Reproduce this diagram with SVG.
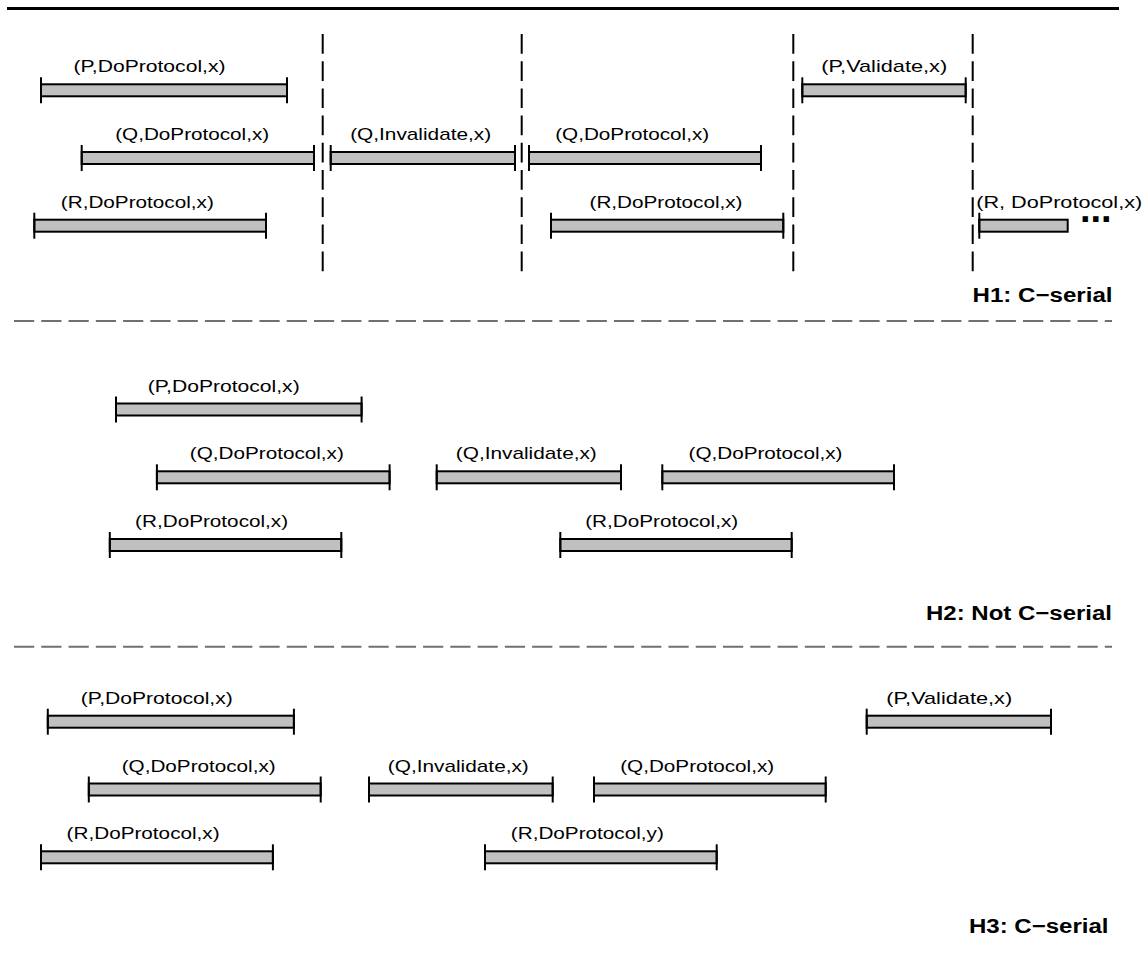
<svg xmlns="http://www.w3.org/2000/svg" width="1148" height="955" viewBox="0 0 1148 955">
<style>
.bar{fill:#c0c0c0;stroke:#000;stroke-width:2}
.tick{stroke:#000;stroke-width:2}
.lbl{font-family:"Liberation Sans",Arial,sans-serif;font-size:17px;fill:#000}
.title{font-family:"Liberation Sans",Arial,sans-serif;font-size:20px;font-weight:bold;fill:#000}
.dots{font-family:"Liberation Sans",Arial,sans-serif;font-size:38px;font-weight:bold;fill:#000}
.vdash{stroke:#000;stroke-width:2;stroke-dasharray:19.7 7.5;fill:none}
.hsep{stroke:#707070;stroke-width:2;stroke-dasharray:20.2 7.07;fill:none}
</style>
<rect width="1148" height="955" fill="#fff"/>
<g id="connectors">
<line x1="7" y1="8.5" x2="1119" y2="8.5" stroke="#000" stroke-width="3"/>
<line class="vdash" x1="322.7" y1="34" x2="322.7" y2="272"/>
<line class="vdash" x1="521.7" y1="34" x2="521.7" y2="272"/>
<line class="vdash" x1="793.3" y1="34" x2="793.3" y2="272"/>
<line class="vdash" x1="972.7" y1="34" x2="972.7" y2="272"/>
<line class="hsep" x1="14" y1="321" x2="1112" y2="321"/>
<line class="hsep" x1="14" y1="646.7" x2="1112" y2="646.7"/>
</g>
<!-- H1 -->
<g id="h1-p-doprotocol">
<rect class="bar" x="41" y="84.3" width="246" height="12"/>
<line class="tick" x1="41" y1="77.3" x2="41" y2="103.3"/><line class="tick" x1="287" y1="77.3" x2="287" y2="103.3"/>
<text class="lbl" x="73.5" y="72.3" textLength="152" lengthAdjust="spacingAndGlyphs">(P,DoProtocol,x)</text>
</g>
<g id="h1-q-doprotocol-1">
<rect class="bar" x="81.7" y="152" width="232.3" height="12"/>
<line class="tick" x1="81.7" y1="145" x2="81.7" y2="171"/><line class="tick" x1="314" y1="145" x2="314" y2="171"/>
<text class="lbl" x="115.2" y="140" textLength="154" lengthAdjust="spacingAndGlyphs">(Q,DoProtocol,x)</text>
</g>
<g id="h1-q-invalidate">
<rect class="bar" x="330.7" y="152" width="184.3" height="12"/>
<line class="tick" x1="330.7" y1="145" x2="330.7" y2="171"/><line class="tick" x1="515" y1="145" x2="515" y2="171"/>
<text class="lbl" x="350.2" y="140" textLength="141" lengthAdjust="spacingAndGlyphs">(Q,Invalidate,x)</text>
</g>
<g id="h1-q-doprotocol-2">
<rect class="bar" x="529" y="152" width="232" height="12"/>
<line class="tick" x1="529" y1="145" x2="529" y2="171"/><line class="tick" x1="761" y1="145" x2="761" y2="171"/>
<text class="lbl" x="555.2" y="140" textLength="154" lengthAdjust="spacingAndGlyphs">(Q,DoProtocol,x)</text>
</g>
<g id="h1-r-doprotocol-1">
<rect class="bar" x="34.3" y="219.7" width="231.7" height="12"/>
<line class="tick" x1="34.3" y1="212.7" x2="34.3" y2="238.7"/><line class="tick" x1="266" y1="212.7" x2="266" y2="238.7"/>
<text class="lbl" x="60.8" y="207.7" textLength="153" lengthAdjust="spacingAndGlyphs">(R,DoProtocol,x)</text>
</g>
<g id="h1-r-doprotocol-2">
<rect class="bar" x="551" y="219.7" width="232.3" height="12"/>
<line class="tick" x1="551" y1="212.7" x2="551" y2="238.7"/><line class="tick" x1="783.3" y1="212.7" x2="783.3" y2="238.7"/>
<text class="lbl" x="589.5" y="207.7" textLength="153" lengthAdjust="spacingAndGlyphs">(R,DoProtocol,x)</text>
</g>
<g id="h1-p-validate">
<rect class="bar" x="802.3" y="84.3" width="163.4" height="12"/>
<line class="tick" x1="802.3" y1="77.3" x2="802.3" y2="103.3"/><line class="tick" x1="965.7" y1="77.3" x2="965.7" y2="103.3"/>
<text class="lbl" x="821.2" y="72.3" textLength="126" lengthAdjust="spacingAndGlyphs">(P,Validate,x)</text>
</g>
<g id="h1-r-doprotocol-3">
<rect class="bar" x="979.3" y="219.7" width="88.4" height="12"/>
<line class="tick" x1="979.3" y1="212.7" x2="979.3" y2="238.7"/>
<text class="lbl" x="976.2" y="207.7" textLength="166" lengthAdjust="spacingAndGlyphs">(R, DoProtocol,x)</text>
<text class="dots" x="1080" y="221.7">...</text>
</g>
<g id="h1-title"><text class="title" x="972.5" y="301.7" textLength="140" lengthAdjust="spacingAndGlyphs">H1: C−serial</text></g>
<!-- H2 -->
<g id="h2-p-doprotocol">
<rect class="bar" x="116" y="403.5" width="245.6" height="12"/>
<line class="tick" x1="116" y1="396.5" x2="116" y2="422.5"/><line class="tick" x1="361.6" y1="396.5" x2="361.6" y2="422.5"/>
<text class="lbl" x="147.7" y="391.5" textLength="152" lengthAdjust="spacingAndGlyphs">(P,DoProtocol,x)</text>
</g>
<g id="h2-q-doprotocol-1">
<rect class="bar" x="156.9" y="471.3" width="232.7" height="12"/>
<line class="tick" x1="156.9" y1="464.3" x2="156.9" y2="490.3"/><line class="tick" x1="389.6" y1="464.3" x2="389.6" y2="490.3"/>
<text class="lbl" x="189.8" y="459.3" textLength="154" lengthAdjust="spacingAndGlyphs">(Q,DoProtocol,x)</text>
</g>
<g id="h2-q-invalidate">
<rect class="bar" x="436.7" y="471.3" width="184.3" height="12"/>
<line class="tick" x1="436.7" y1="464.3" x2="436.7" y2="490.3"/><line class="tick" x1="621" y1="464.3" x2="621" y2="490.3"/>
<text class="lbl" x="455.8" y="459.3" textLength="141" lengthAdjust="spacingAndGlyphs">(Q,Invalidate,x)</text>
</g>
<g id="h2-q-doprotocol-2">
<rect class="bar" x="662.3" y="471.3" width="231.7" height="12"/>
<line class="tick" x1="662.3" y1="464.3" x2="662.3" y2="490.3"/><line class="tick" x1="894" y1="464.3" x2="894" y2="490.3"/>
<text class="lbl" x="688.5" y="459.3" textLength="154" lengthAdjust="spacingAndGlyphs">(Q,DoProtocol,x)</text>
</g>
<g id="h2-r-doprotocol-1">
<rect class="bar" x="109.8" y="539" width="231.5" height="12"/>
<line class="tick" x1="109.8" y1="532" x2="109.8" y2="558"/><line class="tick" x1="341.3" y1="532" x2="341.3" y2="558"/>
<text class="lbl" x="135.1" y="527" textLength="153" lengthAdjust="spacingAndGlyphs">(R,DoProtocol,x)</text>
</g>
<g id="h2-r-doprotocol-2">
<rect class="bar" x="560.3" y="539" width="231.4" height="12"/>
<line class="tick" x1="560.3" y1="532" x2="560.3" y2="558"/><line class="tick" x1="791.7" y1="532" x2="791.7" y2="558"/>
<text class="lbl" x="585.2" y="527" textLength="153" lengthAdjust="spacingAndGlyphs">(R,DoProtocol,x)</text>
</g>
<g id="h2-title"><text class="title" x="926" y="620.3" textLength="186" lengthAdjust="spacingAndGlyphs">H2: Not C−serial</text></g>
<!-- H3 -->
<g id="h3-p-doprotocol">
<rect class="bar" x="47.8" y="715.7" width="246.1" height="12"/>
<line class="tick" x1="47.8" y1="708.7" x2="47.8" y2="734.7"/><line class="tick" x1="293.9" y1="708.7" x2="293.9" y2="734.7"/>
<text class="lbl" x="80.8" y="703.7" textLength="152" lengthAdjust="spacingAndGlyphs">(P,DoProtocol,x)</text>
</g>
<g id="h3-p-validate">
<rect class="bar" x="866.7" y="715.7" width="184.3" height="12"/>
<line class="tick" x1="866.7" y1="708.7" x2="866.7" y2="734.7"/><line class="tick" x1="1051" y1="708.7" x2="1051" y2="734.7"/>
<text class="lbl" x="886.2" y="703.7" textLength="126" lengthAdjust="spacingAndGlyphs">(P,Validate,x)</text>
</g>
<g id="h3-q-doprotocol-1">
<rect class="bar" x="88.8" y="783.5" width="231.9" height="12"/>
<line class="tick" x1="88.8" y1="776.5" x2="88.8" y2="802.5"/><line class="tick" x1="320.7" y1="776.5" x2="320.7" y2="802.5"/>
<text class="lbl" x="121.7" y="771.5" textLength="154" lengthAdjust="spacingAndGlyphs">(Q,DoProtocol,x)</text>
</g>
<g id="h3-q-invalidate">
<rect class="bar" x="369" y="783.5" width="183.7" height="12"/>
<line class="tick" x1="369" y1="776.5" x2="369" y2="802.5"/><line class="tick" x1="552.7" y1="776.5" x2="552.7" y2="802.5"/>
<text class="lbl" x="387.8" y="771.5" textLength="141" lengthAdjust="spacingAndGlyphs">(Q,Invalidate,x)</text>
</g>
<g id="h3-q-doprotocol-2">
<rect class="bar" x="594" y="783.5" width="231.7" height="12"/>
<line class="tick" x1="594" y1="776.5" x2="594" y2="802.5"/><line class="tick" x1="825.7" y1="776.5" x2="825.7" y2="802.5"/>
<text class="lbl" x="620.2" y="771.5" textLength="154" lengthAdjust="spacingAndGlyphs">(Q,DoProtocol,x)</text>
</g>
<g id="h3-r-doprotocol-x">
<rect class="bar" x="41" y="851.3" width="231.9" height="12"/>
<line class="tick" x1="41" y1="844.3" x2="41" y2="870.3"/><line class="tick" x1="272.9" y1="844.3" x2="272.9" y2="870.3"/>
<text class="lbl" x="66.6" y="839.3" textLength="153" lengthAdjust="spacingAndGlyphs">(R,DoProtocol,x)</text>
</g>
<g id="h3-r-doprotocol-y">
<rect class="bar" x="485" y="851.3" width="231.7" height="12"/>
<line class="tick" x1="485" y1="844.3" x2="485" y2="870.3"/><line class="tick" x1="716.7" y1="844.3" x2="716.7" y2="870.3"/>
<text class="lbl" x="510.8" y="839.3" textLength="153" lengthAdjust="spacingAndGlyphs">(R,DoProtocol,y)</text>
</g>
<g id="h3-title"><text class="title" x="969" y="933.3" textLength="139.5" lengthAdjust="spacingAndGlyphs">H3: C−serial</text></g>
</svg>
